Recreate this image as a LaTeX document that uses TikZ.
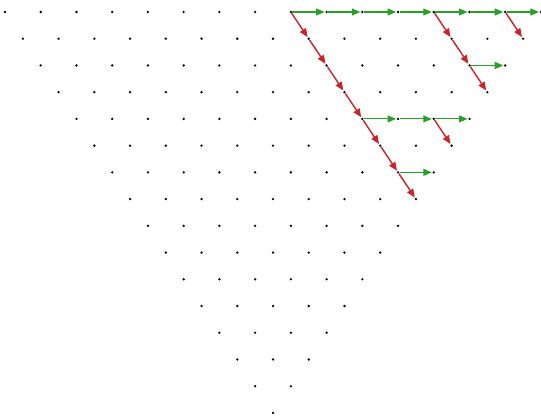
\documentclass[tikz,border=0pt]{standalone}
\usepackage{tikz}
\usetikzlibrary{positioning, arrows.meta}
\definecolor{stepgreen}{RGB}{40,160,40}
\definecolor{stepred}{RGB}{204,34,40}

\begin{document}
\begin{tikzpicture}[x=1pt, y=1pt,
  dot/.style={circle, fill=black, inner sep=0pt, minimum size=2.6pt},
  rightstep/.style={color=stepgreen, line width=1.1pt,
    -{Triangle[length=8.5pt, width=7pt]}, shorten >=0.5pt},
  downstep/.style={color=stepred, line width=1.4pt,
    -{Triangle[length=8.5pt, width=7pt]}, shorten >=0.5pt}]
\useasboundingbox (0,0) rectangle (541,419);
% lattice, row r has 16-r dots
\foreach \r in {0,...,15} {
  \pgfmathtruncatemacro{\last}{15-\r}
  \foreach \k in {0,...,\last}
    \node[dot] (p-\r-\k) at ({5+35.73*\k+17.87*\r},{407-26.73*\r}) {};
}
% horizontal moves
\foreach \r/\k in {0/8,0/9,0/10,0/11,0/12,0/13,0/14,2/12,4/8,4/9,4/10,6/8} {
  \pgfmathtruncatemacro{\n}{\k+1}
  \draw[rightstep] (p-\r-\k) -- (p-\r-\n);
}
% diagonal moves
\foreach \r/\k in {0/8,1/8,2/8,3/8,4/8,5/8,6/8,0/12,1/12,2/12,0/14,4/10} {
  \pgfmathtruncatemacro{\n}{\r+1}
  \draw[downstep] (p-\r-\k) -- (p-\n-\k);
}
\end{tikzpicture}
\end{document}
